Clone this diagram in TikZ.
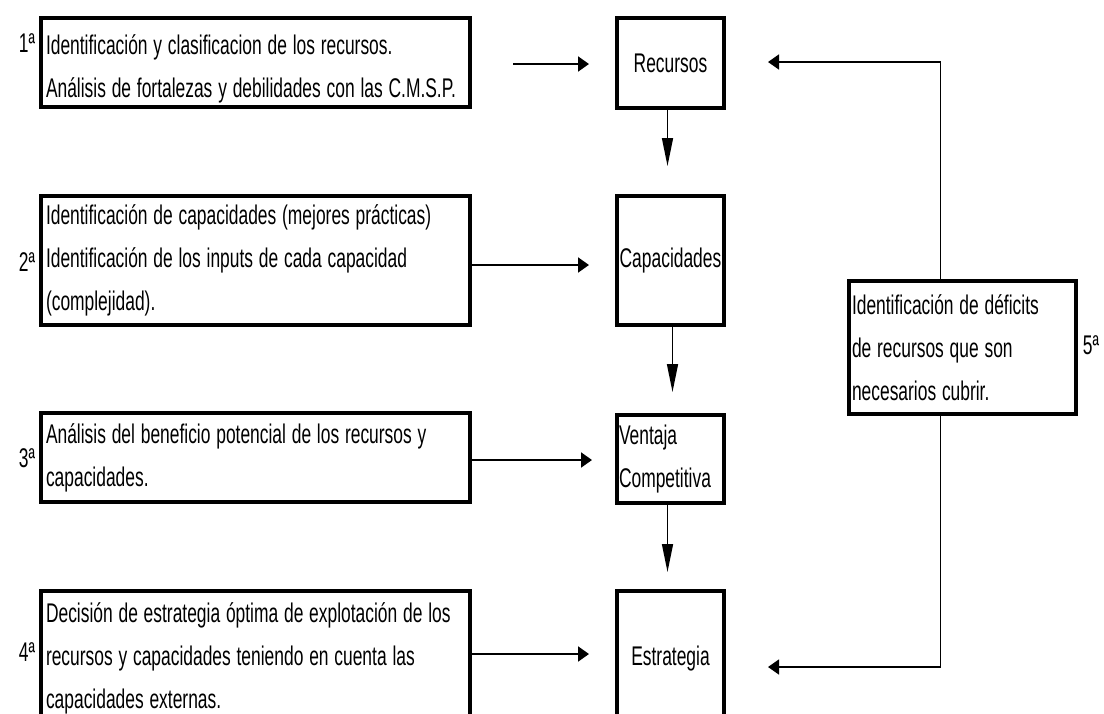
\documentclass[tikz,border=0pt]{standalone}
\usepackage{fontspec}
\usepackage{graphicx}
\setmainfont{Liberation Sans}
\usetikzlibrary{arrows.meta}
\newcommand{\fs}{\fontsize{27}{43}\selectfont}
\newcommand{\nw}[1]{\scalebox{0.645}[1]{#1}}
\tikzset{
  bigbox/.style={draw, line width=4pt, rectangle, anchor=north west, align=left,
    inner xsep=5pt, inner ysep=0pt, font=\fs},
  midbox/.style={draw, line width=4pt, rectangle, anchor=north west, align=center,
    inner xsep=2pt, inner ysep=0pt, font=\fs},
  lbl/.style={font=\fs, inner sep=0pt},
  harrow/.style={line width=2pt, -{Triangle[length=11pt,width=15pt]}},
  varrow/.style={line width=1.5pt, -{Triangle[length=28pt,width=11pt]}},
  farrow/.style={line width=1.5pt, -{Triangle[length=11pt,width=15pt]}},
}
\begin{document}
\begin{tikzpicture}[x=1pt,y=-1pt]
\useasboundingbox (0,0) rectangle (1104,713);
\clip (0,0) rectangle (1104,713);
\fill[white] (0,0) rectangle (1104,713);

\node[bigbox, minimum width=429pt, minimum height=89pt, text width=419pt] (b1) at (39,16)
  {\rule{0pt}{33pt}\nw{Identificación y clasificacion de los recursos.}\\\nw{Análisis de fortalezas y debilidades con las C.M.S.P.}};
\node[bigbox, minimum width=429pt, minimum height=129pt, text width=419pt] (b2) at (39,194)
  {\nw{Identificación de capacidades (mejores prácticas)}\\\nw{Identificación de los inputs de cada capacidad}\\\nw{(complejidad).}};
\node[bigbox, minimum width=429pt, minimum height=89pt, text width=419pt] (b3) at (39,411)
  {\nw{Análisis del beneficio potencial de los recursos y}\\\nw{capacidades.}};
\node[bigbox, minimum width=429pt, minimum height=135pt, text width=419pt] (b4) at (39,589)
  {\nw{Decisión de estrategia óptima de explotación de los}\\\nw{recursos y capacidades teniendo en cuenta las}\\\nw{capacidades externas.}};

\node[midbox, minimum width=107pt, minimum height=90pt] (rec) at (615,16) {\nw{Recursos}};
\node[midbox, minimum width=107pt, minimum height=129pt] (cap) at (615,194) {\nw{Capacidades}};
\node[bigbox, minimum width=107pt, minimum height=88pt, inner xsep=2pt, text width=103pt] (ven) at (615,413) {\nw{Ventaja}\\\nw{Competitiva}};
\node[midbox, minimum width=107pt, minimum height=135pt] (est) at (615,589) {\nw{Estrategia}};

\node[bigbox, minimum width=227pt, minimum height=133pt, inner xsep=3pt, text width=221pt] (b5) at (847,279)
  {\nw{Identificación de déficits}\\\nw{de recursos que son}\\\nw{necesarios cubrir.}};

\node[lbl] (n1) at (27,43) {\nw{1ª}};
\node[lbl] (n2) at (27,262) {\nw{2ª}};
\node[lbl] (n3) at (27,458) {\nw{3ª}};
\node[lbl] (n4) at (27,652) {\nw{4ª}};
\node[lbl] (n5) at (1091,345) {\nw{5ª}};

\coordinate (r1) at ([yshift=-1pt]rec.west);
\coordinate (r2) at ([yshift=-4.5pt]cap.west);
\coordinate (r3) at ([yshift=-1pt]ven.west);
\coordinate (r4) at ([yshift=4.5pt]est.west);
\draw[harrow, shorten <=41pt, shorten >=26pt] (b1.east |- r1) -- (r1);
\draw[harrow, shorten >=26pt] (b2.east |- r2) -- (r2);
\draw[harrow, shorten >=23pt] (b3.east |- r3) -- (r3);
\draw[harrow, shorten >=26pt] (b4.east |- r4) -- (r4);

\draw[varrow, shorten >=28pt] ([xshift=-3pt]rec.south) -- ([xshift=-3pt]cap.north);
\draw[varrow, shorten >=21pt] ([xshift=2pt]cap.south) -- ([xshift=2pt]ven.north);
\draw[varrow, shorten >=17pt] ([xshift=-3pt]ven.south) -- ([xshift=-3pt]est.north);

\coordinate (t1) at ([xshift=-22pt]b5.north);
\coordinate (t2) at ([xshift=-22pt]b5.south);
\draw[farrow, shorten >=42pt] (t1) |- ([yshift=1pt]rec.east);
\draw[farrow, shorten >=42pt] (t2) |- ([yshift=-8.5pt]est.east);
\end{tikzpicture}
\end{document}
